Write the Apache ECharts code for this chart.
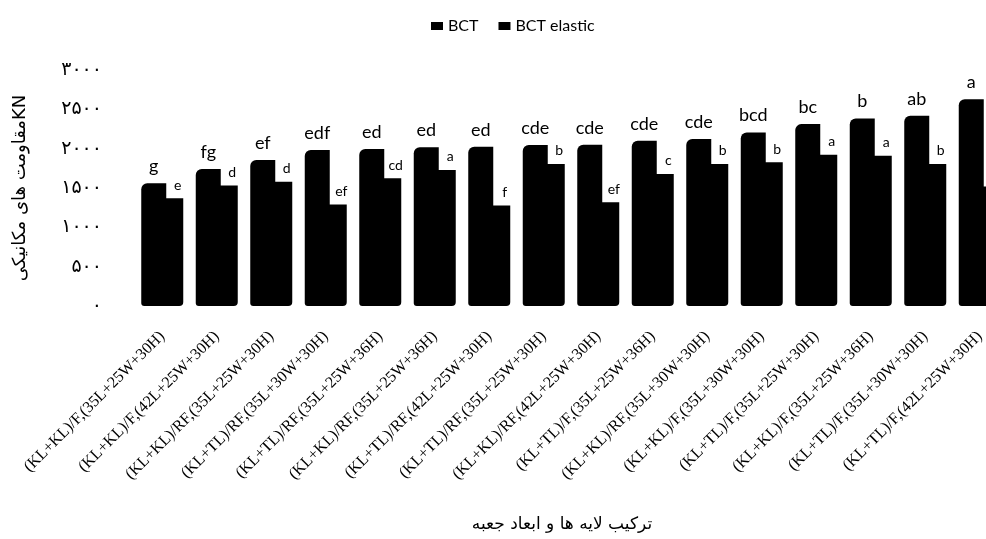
<!DOCTYPE html>
<html><head><meta charset="utf-8">
<script src="https://cdn.jsdelivr.net/npm/echarts@6/dist/echarts.min.js"></script>
<style>html,body{margin:0;padding:0;background:#fff;overflow:hidden;width:986px;height:539px}#c{width:1010px;height:539px}</style>
</head><body><div id="c"></div>
<script>
const categories = [
  "(KL+KL)/F,(35L+25W+30H)",
  "(KL+KL)/F,(42L+25W+30H)",
  "(KL+KL)/RF,(35L+25W+30H)",
  "(KL+TL)/RF,(35L+30W+30H)",
  "(KL+TL)/RF,(35L+25W+36H)",
  "(KL+KL)/RF,(35L+25W+36H)",
  "(KL+TL)/RF,(42L+25W+30H)",
  "(KL+TL)/RF,(35L+25W+30H)",
  "(KL+KL)/RF,(42L+25W+30H)",
  "(KL+TL)/F,(35L+25W+36H)",
  "(KL+KL)/RF,(35L+30W+30H)",
  "(KL+KL)/F,(35L+30W+30H)",
  "(KL+TL)/F,(35L+25W+30H)",
  "(KL+KL)/F,(35L+25W+36H)",
  "(KL+TL)/F,(35L+30W+30H)",
  "(KL+TL)/F,(42L+25W+30H)"
];
const bct = [1560, 1743, 1857, 1984, 1996, 2017, 2025, 2046, 2050, 2101, 2122, 2206, 2312, 2384, 2418, 2629];
const bctElastic = [1371, 1532, 1578, 1291, 1624, 1730, 1278, 1806, 1320, 1679, 1806, 1827, 1924, 1911, 1806, 1519];
const bctLetters = ["g","fg","ef","edf","ed","ed","ed","cde","cde","cde","cde","bcd","bc","b","ab","a"];
const elasticLetters = ["e","d","d","ef","cd","a","f","b","ef","c","b","b","a","a","b",""];
const yTicks = [0, 500, 1000, 1500, 2000, 2500, 3000];

const persian = ['۰','۱','۲','۳','۴','۵','۶','۷','۸','۹'];
function toPersian(v){ return String(v).replace(/[0-9]/g, d => persian[+d]); }

const chart = echarts.init(document.getElementById('c'));
chart.setOption({
  animation: false,
  backgroundColor: '#fff',
  legend: {
    top: 13, left: 426,
    itemWidth: 12, itemHeight: 8, itemGap: 20,
    textStyle: { fontFamily: 'Lato, "Open Sans", sans-serif', fontSize: 16, color: '#000' },
    data: [{name:'BCT', icon:'rect'}, {name:'BCT elastic', icon:'rect'}]
  },
  grid: { left: 135, right: 3, top: 70, bottom: 233, containLabel: false },
  xAxis: {
    type: 'category',
    data: categories,
    name: 'ترکیب لایه ها و ابعاد جعبه',
    nameLocation: 'middle',
    nameGap: 210,
    nameTextStyle: { fontFamily: '"DejaVu Sans", "Liberation Serif", serif', fontSize: 17, color: '#000',
      padding: [0, 18, 0, 0] },
    axisLine: { show: false },
    axisTick: { show: false },
    axisLabel: {
      interval: 0, rotate: 45, margin: 28,
      fontFamily: '"Liberation Serif", "Times New Roman", serif', fontSize: 16, color: '#000'
    }
  },
  yAxis: {
    type: 'value', min: 0, max: 3000, interval: 500,
    name: 'مقاومت های مکانیکیKN',
    nameLocation: 'middle',
    nameRotate: 90,
    nameGap: 106,
    nameTextStyle: { fontFamily: '"DejaVu Sans", "Liberation Serif", serif', fontSize: 18, color: '#000' },
    axisLine: { show: false },
    axisTick: { show: false },
    splitLine: { show: false },
    axisLabel: {
      margin: 33,
      fontFamily: '"DejaVu Sans", "Liberation Serif", serif', fontSize: 19, color: '#000',
      formatter: v => yTicks.includes(v) ? toPersian(v) : ''
    }
  },
  series: [
    {
      name: 'BCT', type: 'bar', z: 3,
      data: bct, barWidth: 25, barGap: '-32%',
      itemStyle: { color: '#000', borderRadius: [6, 0, 0, 3] },
      label: {
        show: true, position: 'top', distance: 8,
        fontFamily: 'Lato, "Open Sans", sans-serif', fontSize: 18, color: '#000',
        formatter: p => bctLetters[p.dataIndex]
      }
    },
    {
      name: 'BCT elastic', type: 'bar', z: 2,
      data: bctElastic, barWidth: 25,
      itemStyle: { color: '#000', borderRadius: [0, 0, 4, 0] },
      label: {
        show: true, position: 'top', distance: 6, offset: [7, 0],
        fontFamily: 'Lato, "Open Sans", sans-serif', fontSize: 14, color: '#000',
        formatter: p => elasticLetters[p.dataIndex]
      }
    }
  ]
});
</script>
</body></html>
